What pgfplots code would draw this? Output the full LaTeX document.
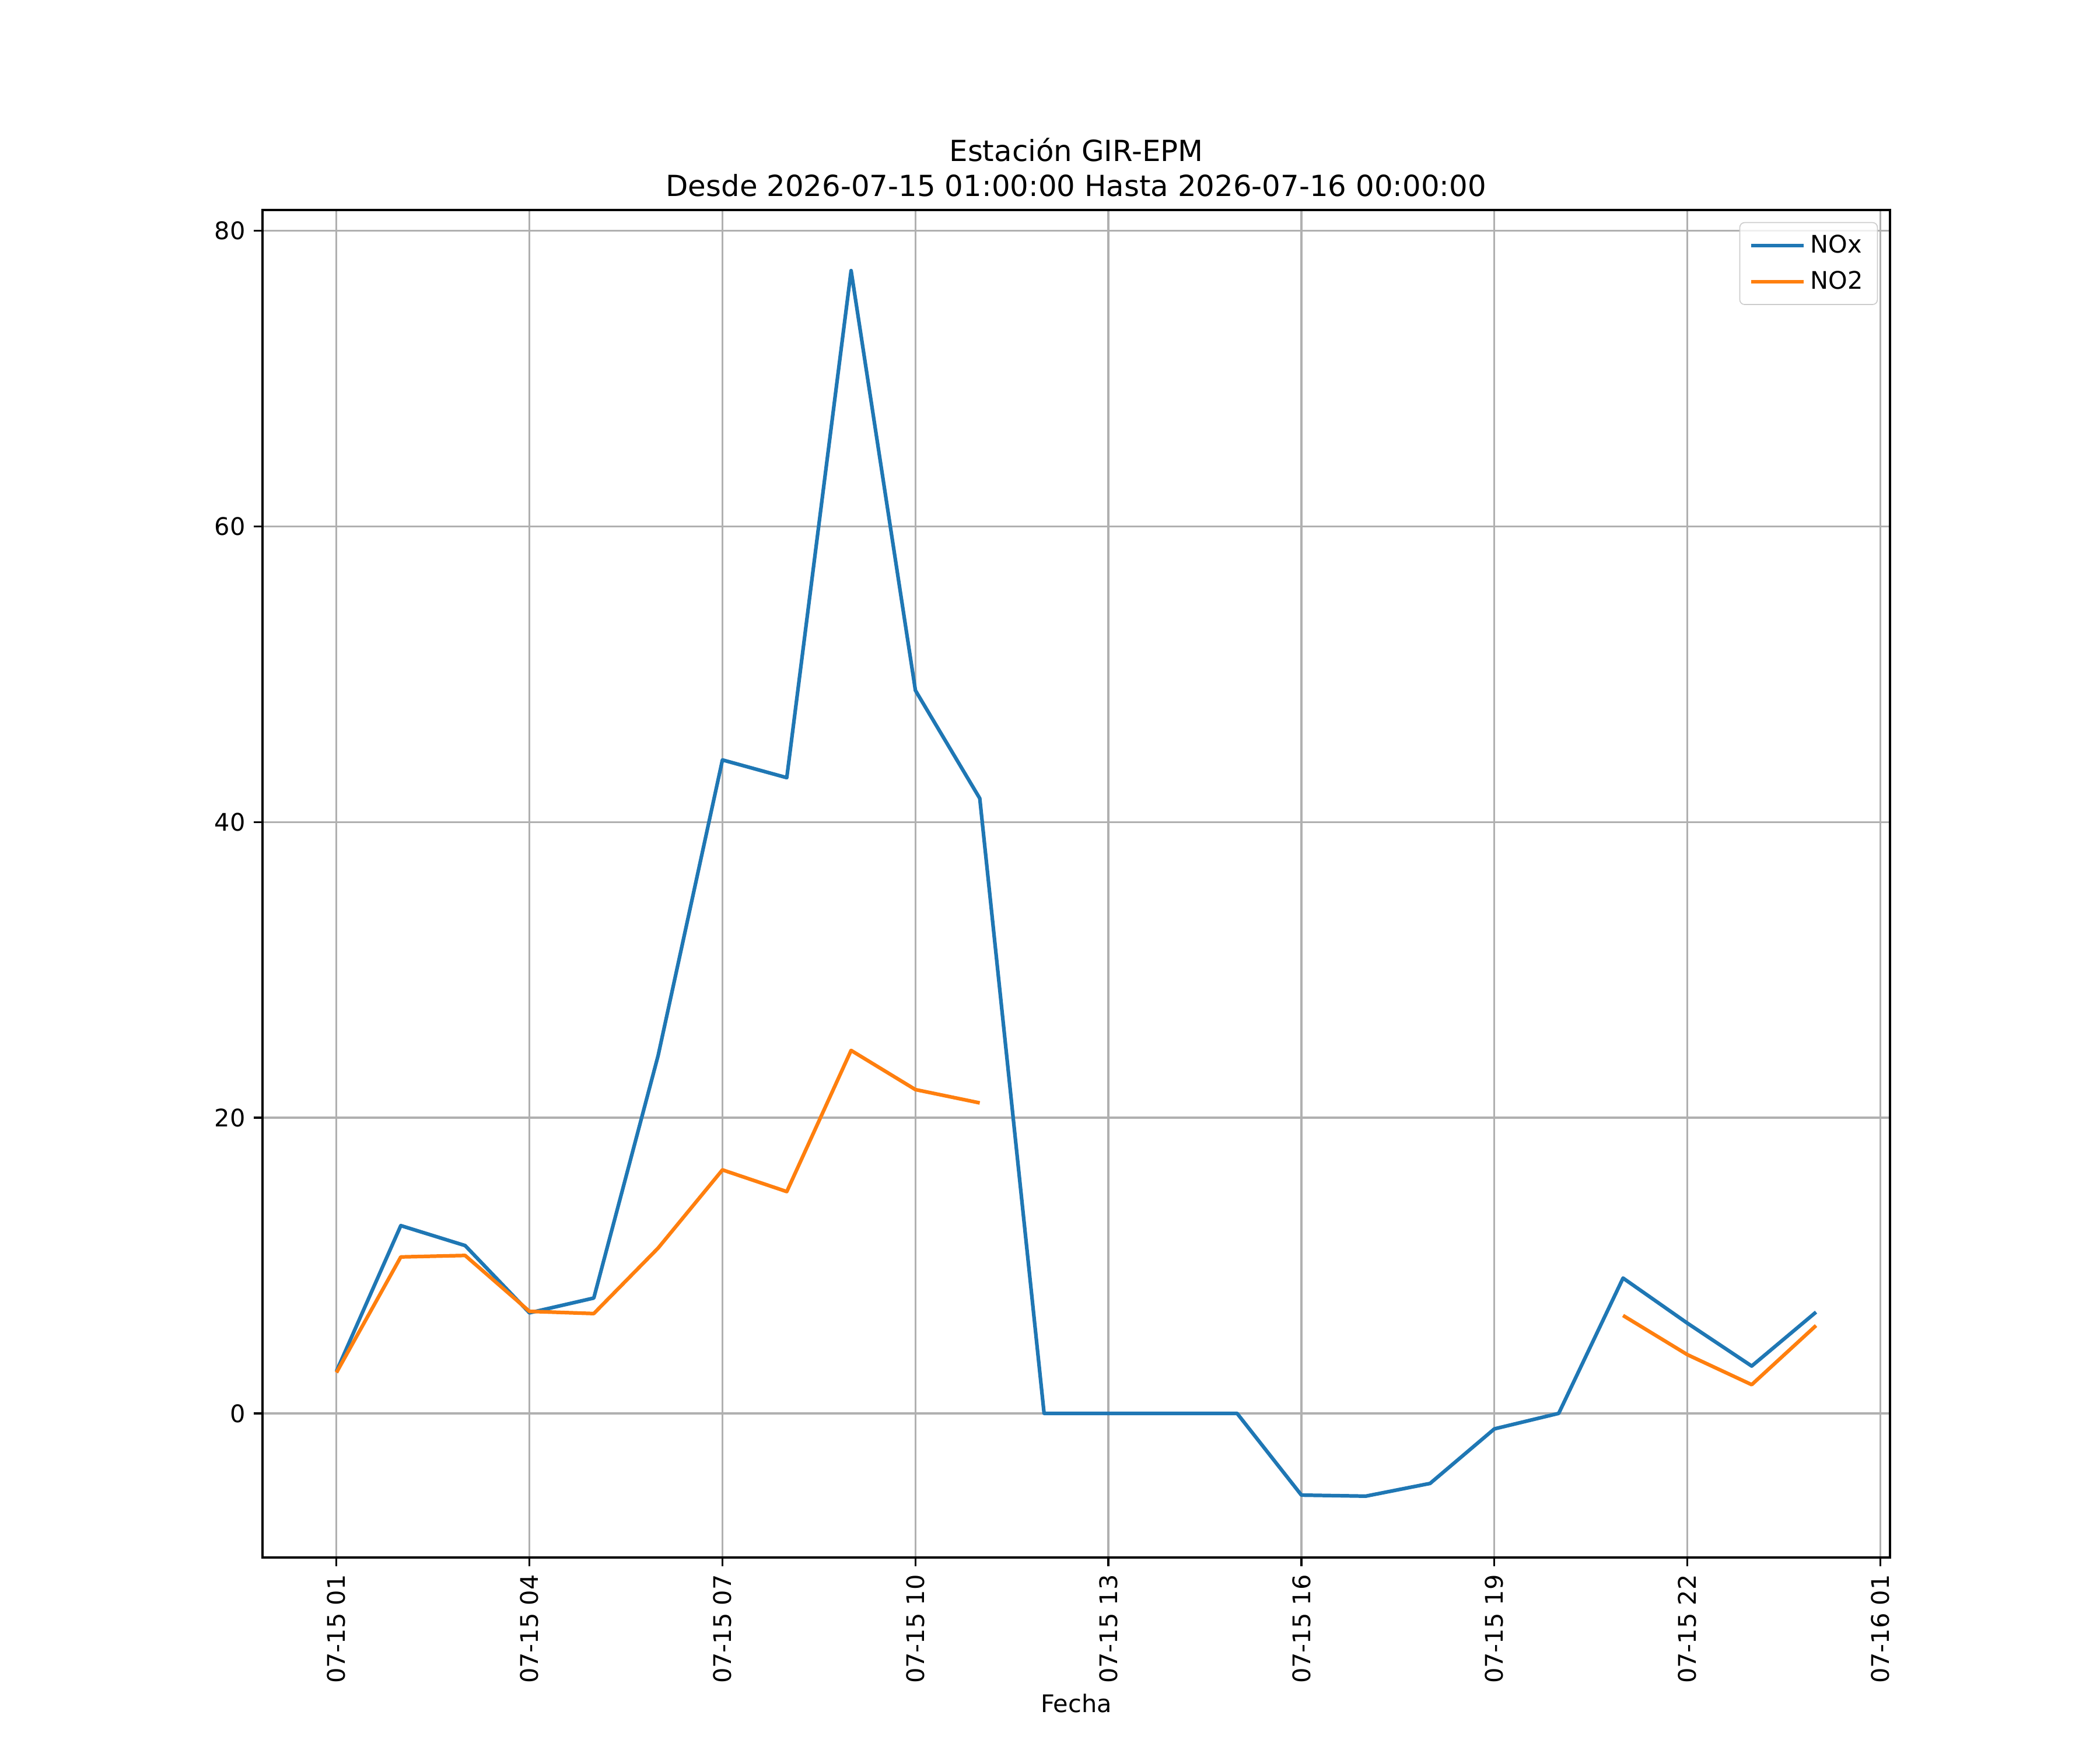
\documentclass[border=0pt]{standalone}
\usepackage{fontspec}
\setmainfont{DejaVu Sans}
\usepackage{pgfplots}
\pgfplotsset{compat=1.18}
\definecolor{cA}{HTML}{1F77B4}
\definecolor{cB}{HTML}{FF7F0E}
\definecolor{gridc}{HTML}{B0B0B0}
\definecolor{legc}{HTML}{CCCCCC}
\begin{document}
\begin{tikzpicture}
\begin{axis}[
  scale only axis,
  width=9.3in, height=7.7in,
  xmin=-1.15, xmax=24.15,
  ymin=-9.75, ymax=81.4,
  xtick={0,3,6,9,12,15,18,21,24},
  xticklabels={07-15 01,07-15 04,07-15 07,07-15 10,07-15 13,07-15 16,07-15 19,07-15 22,07-16 01},
  xticklabel style={rotate=90, anchor=east, font=\fontsize{10}{12}\selectfont},
  ytick={0,20,40,60,80},
  yticklabel style={font=\fontsize{10}{12}\selectfont},
  /pgf/number format/assume math mode=true,
  tick align=outside, tick pos=left,
  major tick length=3.5pt,
  every tick/.style={black, line width=0.8pt},
  axis line style={line width=0.8pt},
  grid=major,
  major grid style={gridc, line width=0.8pt},
  xlabel={Fecha},
  xlabel style={font=\fontsize{10}{12}\selectfont, yshift=2.5pt},
  title={Estación GIR-EPM\\Desde 2026-07-15 01:00:00 Hasta 2026-07-16 00:00:00},
  title style={font=\fontsize{12}{14.5}\selectfont, align=center, yshift=-4pt},
  unbounded coords=jump,
  legend style={at={(1,1)}, anchor=north east, xshift=-5pt, yshift=-5pt,
    draw=legc, rounded corners=2pt, fill=white, fill opacity=0.8, text opacity=1,
    font=\fontsize{10}{12}\selectfont, inner xsep=4pt, inner ysep=3pt, row sep=2pt},
  legend cell align=left,
  legend image code/.code={\draw[#1] (0cm,0cm) -- (0.76cm,0cm);},
]
\addplot[cA, line width=1.5pt, line join=round] coordinates {
(0,2.85) (1,12.7) (2,11.35) (3,6.8) (4,7.8) (5,24.2) (6,44.2) (7,43.0) (8,77.3) (9,48.9) (10,41.6)
(11,0) (12,0) (13,0) (14,0) (15,-5.53) (16,-5.6) (17,-4.74) (18,-1.05) (19,0)
(20,9.15) (21,6.1) (22,3.2) (23,6.85)
};
\addlegendentry{NOx}
\addplot[cB, line width=1.5pt, line join=round] coordinates {
(0,2.76) (1,10.58) (2,10.68) (3,6.9) (4,6.75) (5,11.18) (6,16.47) (7,15.0) (8,24.55) (9,21.9) (10,21.0)
(11,nan) (12,nan) (13,nan) (14,nan) (15,nan) (16,nan) (17,nan) (18,nan) (19,nan)
(20,6.62) (21,3.97) (22,1.94) (23,5.94)
};
\addlegendentry{NO2}
\end{axis}
\path[use as bounding box] (-1.5in,-1.1in) rectangle (10.5in,8.9in);
\end{tikzpicture}
\end{document}
